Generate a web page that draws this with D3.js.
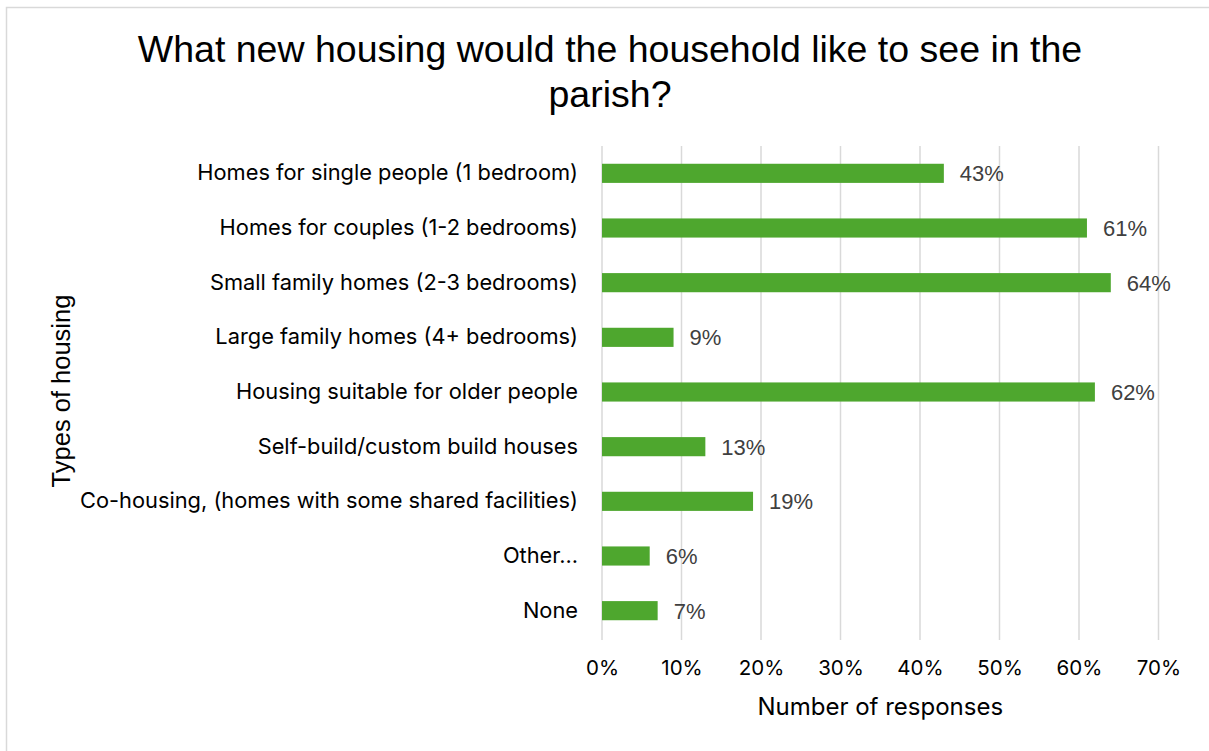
<!DOCTYPE html>
<html>
<head>
<meta charset="utf-8">
<script src="https://cdn.jsdelivr.net/npm/d3@7"></script>
<style>
  html, body { margin: 0; padding: 0; background: #fff; }
  svg { display: block; font-family: "Liberation Sans", Arial, sans-serif; }
</style>
</head>
<body>
<svg id="chart" width="1209" height="751"></svg>
<script>
// Survey answers: share of households wanting each type of new housing
const categories = [
  "Homes for single people (1 bedroom)",
  "Homes for couples (1-2 bedrooms)",
  "Small family homes (2-3 bedrooms)",
  "Large family homes (4+ bedrooms)",
  "Housing suitable for older people",
  "Self-build/custom build houses",
  "Co-housing, (homes with some shared facilities)",
  "Other...",
  "None"
];
const values = [43, 61, 64, 9, 62, 13, 19, 6, 7];
const xTicks = [0, 10, 20, 30, 40, 50, 60, 70];

const titleLines = ["What new housing would the household like to see in the", "parish?"];
const xTitle = "Number of responses";
const yTitle = "Types of housing";

const bodyFont = "Inter, 'Open Sans', sans-serif";
const headFont = "'Liberation Sans', Arial, sans-serif";

const svg = d3.select("#chart");
const W = 1209, H = 751;

// Chart frame
svg.append("rect")
  .attr("x", 6.5).attr("y", 7.5)
  .attr("width", W + 10).attr("height", H + 10)
  .attr("fill", "#fff").attr("stroke", "#d9d9d9").attr("stroke-width", 1.5);

const plot = { left: 602, right: 1158.5, top: 146, bottom: 638 };

const x = d3.scaleLinear().domain([0, 70]).range([plot.left, plot.right]);
const y = d3.scaleBand().domain(categories).range([plot.top, plot.bottom]).paddingInner(0.65).paddingOuter(0.325);

// Vertical gridlines
svg.append("g")
  .selectAll("line")
  .data(xTicks)
  .join("line")
  .attr("x1", d => x(d)).attr("x2", d => x(d))
  .attr("y1", plot.top).attr("y2", plot.bottom + 2)
  .attr("stroke", "#d9d9d9").attr("stroke-width", 1.5);

// Bars
svg.append("g")
  .selectAll("rect")
  .data(values)
  .join("rect")
  .attr("x", x(0))
  .attr("y", (d, i) => y(categories[i]))
  .attr("width", d => x(d) - x(0))
  .attr("height", y.bandwidth())
  .attr("fill", "#4ea72e");

// Value labels
svg.append("g")
  .selectAll("text")
  .data(values)
  .join("text")
  .attr("x", d => x(d) + 16)
  .attr("y", (d, i) => y(categories[i]) + y.bandwidth() / 2)
  .attr("dy", "0.36em")
  .attr("font-family", headFont)
  .attr("font-size", 22)
  .attr("fill", "#404040")
  .text(d => d + "%");

// Category axis (labels only)
const yAxis = d3.axisLeft(y).tickSize(0).tickPadding(24);
svg.append("g")
  .attr("transform", `translate(${plot.left},0)`)
  .call(yAxis)
  .call(g => g.select(".domain").remove())
  .call(g => g.selectAll("text")
    .attr("font-size", 21.8)
    .attr("font-family", bodyFont)
    .attr("fill", "#000"));

// Percentage axis (labels only)
const xAxis = d3.axisBottom(x).tickValues(xTicks).tickFormat(d => d + "%").tickSize(0).tickPadding(0);
svg.append("g")
  .attr("transform", `translate(0,${plot.bottom + 22})`)
  .call(xAxis)
  .call(g => g.select(".domain").remove())
  .call(g => g.selectAll("text")
    .attr("font-size", 20.5)
    .attr("font-family", bodyFont)
    .attr("fill", "#000"));

// Axis titles
svg.append("text")
  .attr("x", (plot.left + plot.right) / 2)
  .attr("y", 715)
  .attr("text-anchor", "middle")
  .attr("font-family", bodyFont)
  .attr("font-size", 24)
  .attr("fill", "#000")
  .text(xTitle);

svg.append("text")
  .attr("transform", `translate(70,${391}) rotate(-90)`)
  .attr("text-anchor", "middle")
  .attr("font-family", headFont)
  .attr("font-size", 25.5)
  .attr("fill", "#000")
  .text(yTitle);

// Title
svg.append("text")
  .attr("text-anchor", "middle")
  .attr("font-family", headFont)
  .attr("font-size", 37.5)
  .attr("fill", "#000")
  .selectAll("tspan")
  .data(titleLines)
  .join("tspan")
  .attr("x", 610)
  .attr("y", (d, i) => 62 + i * 45)
  .text(d => d);
</script>
</body>
</html>
